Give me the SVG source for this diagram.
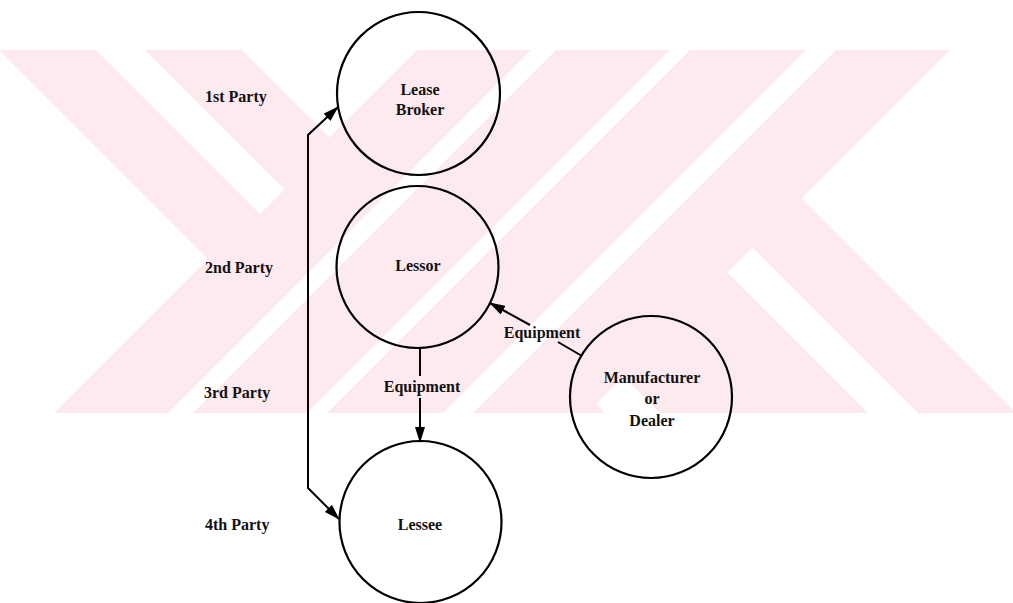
<svg xmlns="http://www.w3.org/2000/svg" width="1013" height="603" viewBox="0 0 1013 603">
  <style>
    .node { fill: none; stroke: #000; stroke-width: 2.2; }
    .lbl { font-family: "Liberation Serif", "Times New Roman", serif; font-size: 16px; font-weight: bold; fill: #111; text-anchor: middle; }
    .side { font-family: "Liberation Serif", "Times New Roman", serif; font-size: 16px; font-weight: bold; fill: #111; text-anchor: start; }
    .conn { fill: none; stroke: #000; stroke-width: 2; }
    .wm { fill: #fdeaee; }
    .wmcut { fill: #ffffff; }
  </style>
  <defs>
    <clipPath id="wmclip"><rect x="0" y="50" width="1013" height="363"/></clipPath>
    <marker id="arrow" viewBox="0 0 16 10" refX="15" refY="5" markerWidth="16" markerHeight="10" markerUnits="userSpaceOnUse" orient="auto-start-reverse">
      <path d="M0,0 L16,5 L0,10 z" fill="#000"/>
    </marker>
  </defs>
  <rect x="0" y="0" width="1013" height="603" fill="#ffffff"/>
  <g id="watermark" clip-path="url(#wmclip)">
    <polygon class="wm" points="-1,50 242,50 605,413 362,413"/>
    <polygon class="wm" points="417,50 950,50 587,413 54,413"/>
    <polygon class="wm" points="523.5,276.5 801.5,198.5 1030,427 674,427 660,413"/>
    <polygon class="wmcut" points="96,50 145,50 284.5,189.5 260,214"/>
    <polygon class="wmcut" points="531,50 556,50 193,413 168,413"/>
    <polygon class="wmcut" points="670,50 690,50 327,413 307,413"/>
    <polygon class="wmcut" points="806,50 836,50 473,413 443,413"/>
    <polygon class="wmcut" points="727.5,272.5 752.5,247.5 918,413 868,413"/>
  </g>
  <g id="connectors">
    <path class="conn" d="M420,349 L420,376"/>
    <path class="conn" d="M420,398 L420,442" marker-end="url(#arrow)"/>
    <path class="conn" d="M582,356 L558,342"/>
    <path class="conn" d="M530,325 L490,303" marker-end="url(#arrow)"/>
    <path class="conn" d="M338,107 L308,135 L308,488 L339,519" marker-start="url(#arrow)" marker-end="url(#arrow)"/>
    <text class="lbl" x="422" y="392">Equipment</text>
    <text class="lbl" x="542" y="338">Equipment</text>
  </g>
  <g id="party-labels">
    <text class="side" x="205" y="102">1st Party</text>
    <text class="side" x="205" y="273">2nd Party</text>
    <text class="side" x="204" y="398">3rd Party</text>
    <text class="side" x="205" y="530">4th Party</text>
  </g>
  <g id="lease-broker">
    <circle class="node" cx="418.5" cy="93.5" r="81.5"/>
    <text class="lbl" x="420" y="95">Lease</text>
    <text class="lbl" x="420" y="115">Broker</text>
  </g>
  <g id="lessor">
    <circle class="node" cx="417.5" cy="267" r="81"/>
    <text class="lbl" x="418" y="271">Lessor</text>
  </g>
  <g id="lessee">
    <circle class="node" cx="420.5" cy="522" r="81"/>
    <text class="lbl" x="420" y="530">Lessee</text>
  </g>
  <g id="manufacturer">
    <circle class="node" cx="651" cy="397" r="81"/>
    <text class="lbl" x="652" y="383">Manufacturer</text>
    <text class="lbl" x="652" y="404">or</text>
    <text class="lbl" x="652" y="426">Dealer</text>
  </g>
</svg>
